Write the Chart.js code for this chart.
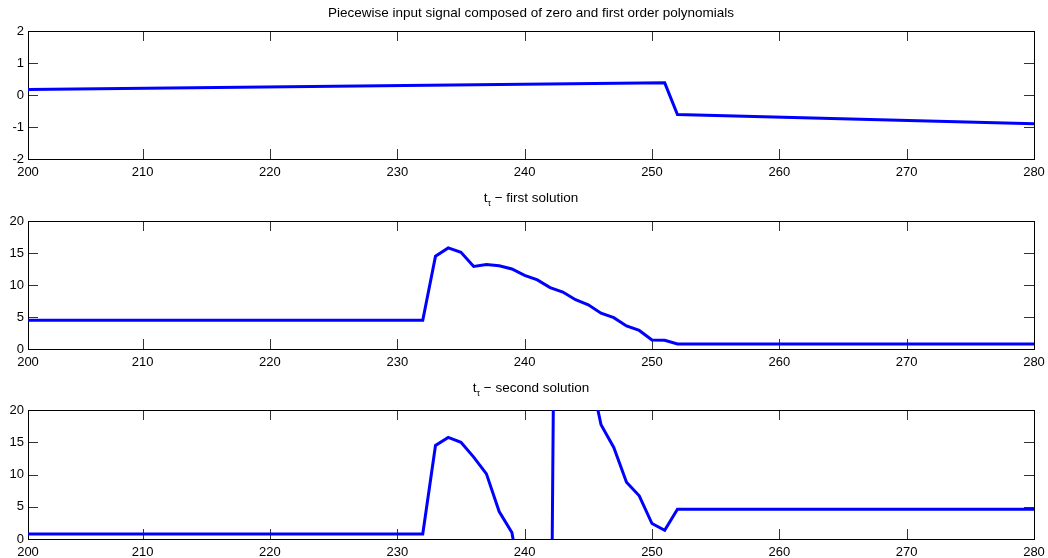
<!DOCTYPE html>
<html>
<head>
<meta charset="utf-8">
<title>Piecewise input signal</title>
<script src="https://cdn.jsdelivr.net/npm/chart.js@4/dist/chart.umd.min.js"></script>
<style>
  body { margin: 0; background: #fff; }
  #wrap { position: relative; width: 1048px; height: 558px; }
  canvas { position: absolute; left: 0; }
</style>
</head>
<body>
<div id="wrap">
  <canvas id="inputChart" width="1048" height="180" style="top:0"></canvas>
  <canvas id="firstChart" width="1048" height="190" style="top:180px"></canvas>
  <canvas id="secondChart" width="1048" height="188" style="top:370px"></canvas>
</div>
<script>
// x axis: the box starts a hair right of 200 in the reference, its edge is labelled 200
const xStart = 201;
const xEnd = 280;
const xTicks = [210, 220, 230, 240, 250, 260, 270, 280];

// Piecewise input signal (breakpoints)
const inputX = [200, 251, 252, 280];
const inputY = [0.17, 0.38, -0.61, -0.9];

// t_tau - first solution
const firstX = [200, 232, 233, 234, 235, 236, 237, 238, 239, 240, 241, 242, 243, 244, 245, 246, 247, 248, 249, 250, 251, 252, 280];
const firstY = [4.5, 4.5, 14.5, 15.8, 15.1, 12.9, 13.2, 13.0, 12.5, 11.5, 10.8, 9.6, 8.9, 7.7, 6.9, 5.6, 4.9, 3.6, 2.9, 1.4, 1.35, 0.78, 0.78];

// t_tau - second solution (values outside 0..20 are clipped by the axes)
const secondX = [200, 232, 233, 234, 235, 236, 237, 238, 239, 240, 241, 242, 243, 244, 245, 246, 247, 248, 249, 250, 251, 252, 280];
const secondY = [0.78, 0.78, 14.5, 15.75, 15.0, 12.7, 10.1, 4.25, 1.0, -10, -20, -40, 200, 60, 27, 17.7, 14.2, 8.8, 6.7, 2.4, 1.35, 4.6, 4.6];

const FONT = 'Helvetica, Arial, "Liberation Sans", sans-serif';
const TICK_LEN = 10;

// MATLAB style box with inward tick marks on all four sides
const matlabAxes = {
    id: 'matlabAxes',
    beforeDatasetsDraw(chart) {
        const { ctx, chartArea: a, scales: { x, y } } = chart;
        ctx.save();
        ctx.strokeStyle = '#333';
        ctx.lineWidth = 1;
        ctx.beginPath();
        x.ticks.forEach(t => {
            const px = Math.round(x.getPixelForValue(t.value)) + 0.5;
            ctx.moveTo(px, a.bottom); ctx.lineTo(px, a.bottom - TICK_LEN);
            ctx.moveTo(px, a.top); ctx.lineTo(px, a.top + TICK_LEN);
        });
        y.ticks.forEach(t => {
            const py = Math.round(y.getPixelForValue(t.value)) + 0.5;
            ctx.moveTo(a.left, py); ctx.lineTo(a.left + TICK_LEN, py);
            ctx.moveTo(a.right, py); ctx.lineTo(a.right - TICK_LEN, py);
        });
        ctx.stroke();
        ctx.strokeStyle = '#000';
        ctx.strokeRect(Math.round(a.left) + 0.5, Math.round(a.top) + 0.5,
            Math.round(a.right - a.left), Math.round(a.bottom - a.top));
        ctx.restore();
    }
};

// Title drawn in pieces so the tau can sit as a subscript
const partTitle = {
    id: 'partTitle',
    afterDraw(chart, args, opts) {
        const { ctx, chartArea: a } = chart;
        const parts = opts.parts || [];
        ctx.save();
        ctx.fillStyle = '#000';
        ctx.textBaseline = 'middle';
        ctx.textAlign = 'left';
        const widths = parts.map(p => {
            ctx.font = `${p.sub ? 9 : opts.size}px ${FONT}`;
            return ctx.measureText(p.text).width;
        });
        let cx = (a.left + a.right) / 2 - widths.reduce((s, w) => s + w, 0) / 2;
        parts.forEach((p, i) => {
            ctx.font = `${p.sub ? 9 : opts.size}px ${FONT}`;
            ctx.fillText(p.text, cx, opts.y + (p.sub ? 6 : 0));
            cx += widths[i];
        });
        ctx.restore();
    }
};

function makeChart(canvasId, xs, ys, yMin, yMax, yStep, padTop, xAxisHeight, titleParts, titleY) {
    const ctx = document.getElementById(canvasId).getContext('2d');
    return new Chart(ctx, {
        type: 'line',
        data: {
            datasets: [{
                data: xs.map((v, i) => ({ x: v, y: ys[i] })),
                borderColor: '#0000ff',
                borderWidth: 3,
                pointRadius: 0,
                tension: 0,
                fill: false
            }]
        },
        options: {
            responsive: false,
            animation: false,
            devicePixelRatio: 1,
            layout: { padding: { top: padTop, right: 14, bottom: 0, left: 0 } },
            plugins: {
                legend: { display: false },
                tooltip: { enabled: false },
                partTitle: { parts: titleParts, y: titleY, size: 13.5 }
            },
            scales: {
                x: {
                    type: 'linear',
                    min: xStart,
                    max: xEnd,
                    grid: { display: false, drawTicks: false },
                    border: { display: false },
                    afterBuildTicks: (scale) => {
                        scale.ticks = [xStart, ...xTicks].map(v => ({ value: v }));
                    },
                    afterFit: (scale) => {
                        scale.height = xAxisHeight;
                        scale.paddingLeft = 0;
                        scale.paddingRight = 0;
                    },
                    ticks: {
                        color: '#000',
                        font: { family: FONT, size: 13 },
                        padding: 6,
                        maxRotation: 0,
                        autoSkip: false,
                        callback: (v) => v === xStart ? '200' : String(v)
                    }
                },
                y: {
                    min: yMin,
                    max: yMax,
                    grid: { display: false, drawTicks: false },
                    border: { display: false },
                    afterFit: (scale) => { scale.width = 28; },
                    ticks: {
                        color: '#000',
                        font: { family: FONT, size: 13 },
                        padding: 4,
                        stepSize: yStep
                    }
                }
            }
        },
        plugins: [matlabAxes, partTitle]
    });
}

document.addEventListener('DOMContentLoaded', () => {
    makeChart('inputChart', inputX, inputY, -2, 2, 1, 31, 21,
        [{ text: 'Piecewise input signal composed of zero and first order polynomials' }], 13);
    makeChart('firstChart', firstX, firstY, 0, 20, 5, 41, 21,
        [{ text: 't' }, { text: 'τ', sub: true }, { text: ' − first solution' }], 18);
    makeChart('secondChart', secondX, secondY, 0, 20, 5, 40, 19,
        [{ text: 't' }, { text: 'τ', sub: true }, { text: ' − second solution' }], 18);
});
</script>
</body>
</html>
